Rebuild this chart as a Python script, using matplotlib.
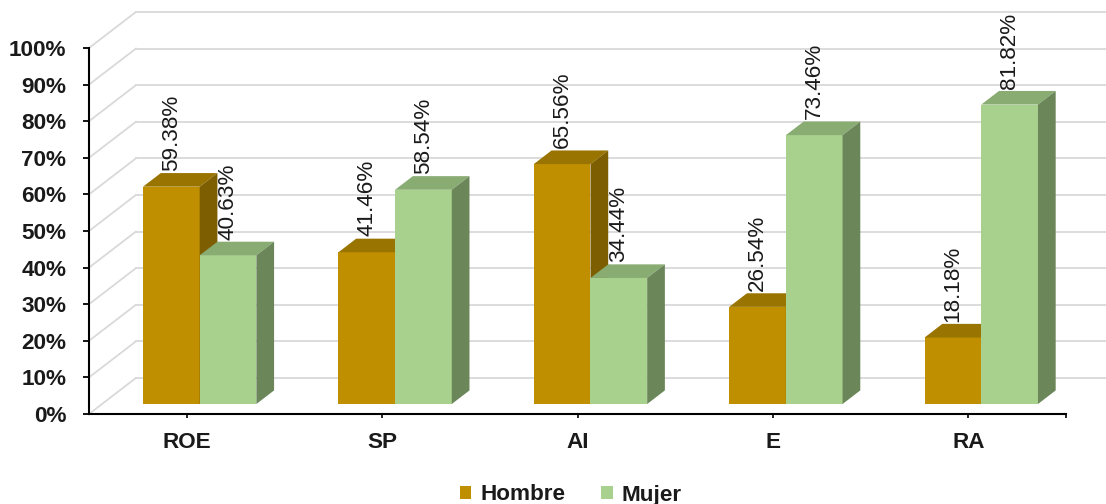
import matplotlib
matplotlib.use("Agg")
import matplotlib.pyplot as plt
from matplotlib.patches import Polygon, Patch

categories = ["ROE", "SP", "AI", "E", "RA"]
hombre = [59.38, 41.46, 65.56, 26.54, 18.18]
mujer = [40.63, 58.54, 34.44, 73.46, 81.82]
series_names = ["Hombre", "Mujer"]
yticks = [0, 10, 20, 30, 40, 50, 60, 70, 80, 90, 100]

plt.rcParams['font.family'] = ['Liberation Sans', 'DejaVu Sans']
TXT = '#1a1a1a'
FS = 16.2

front_cols = ['#BF8F00', '#A9D18E']
top_cols = ['#9A7400', '#88AC72']
side_cols = ['#7D5E00', '#6B875A']

fig = plt.figure(figsize=(11.06, 5.04), dpi=100)
W, H = 1106, 504
ax = fig.add_axes([89 / W, (H - 414) / H, (1066 - 89) / W, (414 - 48) / H])
ax.set_xlim(-0.5, 4.5)
ax.set_ylim(0, 100)

# 3D depth in data units
DX, DY = 0.24, 9.84
f0, f1 = 0.277, 0.655
bw = 0.29

grid_c = '#d9d9d9'
for y in yticks:
    ax.plot([-0.5, -0.5 + DX], [y, y + DY], color=grid_c, lw=1.3, clip_on=False, zorder=1)
    ax.plot([-0.5 + DX, 4.5 + DX + 0.2], [y + DY, y + DY], color=grid_c, lw=1.3, clip_on=False, zorder=1)

def draw_bar(xl, val, k):
    ox0, oy0 = f0 * DX, f0 * DY
    ox1, oy1 = f1 * DX, f1 * DY
    x0 = xl + ox0
    x1 = x0 + bw
    ax.bar([x0], [val], width=bw, bottom=oy0, align='edge', color=front_cols[k],
           linewidth=0, zorder=3, clip_on=False)
    dx, dy = ox1 - ox0, oy1 - oy0
    top = Polygon([(x0, val + oy0), (x1, val + oy0), (x1 + dx, val + oy0 + dy), (x0 + dx, val + oy0 + dy)],
                  closed=True, facecolor=top_cols[k], edgecolor='none', zorder=3, clip_on=False)
    side = Polygon([(x1, oy0), (x1 + dx, oy0 + dy), (x1 + dx, val + oy0 + dy), (x1, val + oy0)],
                   closed=True, facecolor=side_cols[k], edgecolor='none', zorder=3, clip_on=False)
    ax.add_patch(top)
    ax.add_patch(side)
    ax.text(x0 + bw / 2, val + oy1 + 0.6, f"{val:.2f}%", rotation=90, ha='center', va='bottom',
            fontsize=FS, color=TXT, zorder=5, clip_on=False)

for i in range(len(categories)):
    draw_bar(i - bw, hombre[i], 0)
    draw_bar(i, mujer[i], 1)

for s in ['top', 'right']:
    ax.spines[s].set_visible(False)
for s in ['left', 'bottom']:
    ax.spines[s].set_color('black')
    ax.spines[s].set_linewidth(1.5)
    ax.spines[s].set_zorder(4)

ax.set_yticks(yticks)
ax.set_yticklabels([f"{v}%" for v in yticks], fontsize=FS, fontweight='bold', color=TXT)
ax.tick_params(axis='y', direction='out', length=4.3, width=1.3, pad=12)
ax.set_xticks(list(range(len(categories))) + [4.5])
ax.set_xticklabels(categories + [""], fontsize=FS, fontweight='bold', color=TXT)
ax.tick_params(axis='x', direction='out', length=3, width=1.2, pad=10)
ax.patch.set_alpha(0)

handles = [Patch(facecolor=front_cols[0], edgecolor='none'), Patch(facecolor=front_cols[1], edgecolor='none')]
fig.legend(handles, series_names, loc='center', bbox_to_anchor=(571 / W, (H - 495) / H), ncol=2,
           frameon=False, prop={'size': FS, 'weight': 'bold'}, handlelength=0.5, handleheight=0.5,
           handletextpad=0.4, columnspacing=1.6, labelcolor=TXT)

fig.savefig("out.png", dpi=100)
